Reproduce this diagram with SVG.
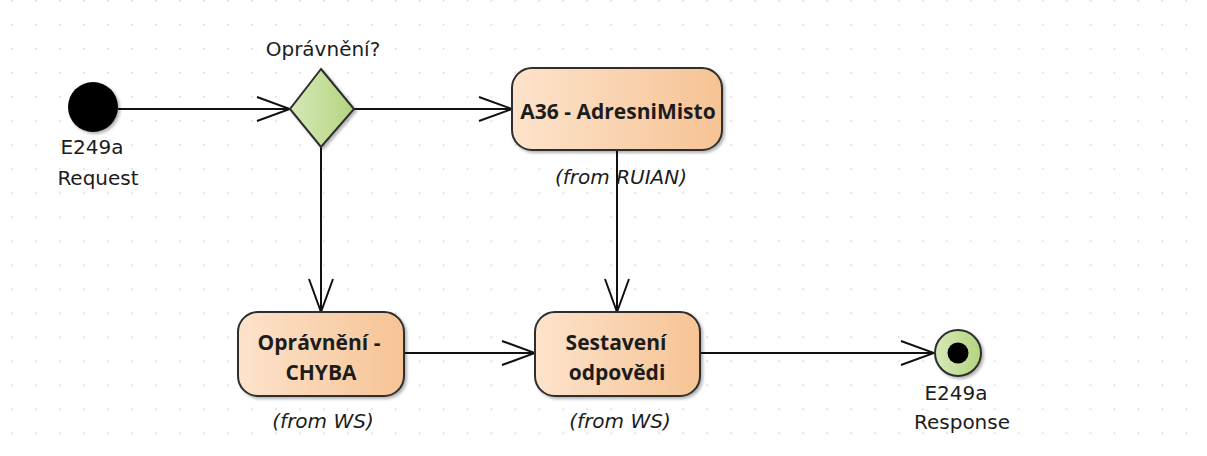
<svg xmlns="http://www.w3.org/2000/svg" width="1207" height="456" viewBox="0 0 1207 456">
<style>
.lbl{font-family:"DejaVu Sans",Verdana,sans-serif;font-size:20px;fill:#1c1c1c;text-anchor:middle}
.nt{font-family:"Open Sans","DejaVu Sans",sans-serif;font-size:21px;font-weight:bold;fill:#1c1c1c;text-anchor:middle}
.from{font-family:"DejaVu Sans",Verdana,sans-serif;font-size:20px;font-style:italic;fill:#1c1c1c;text-anchor:middle}
.act{fill:url(#gAct);stroke:#2e2e2e;stroke-width:2;filter:url(#sh)}
.edge{fill:none;stroke:#111;stroke-width:2;marker-end:url(#arr)}
</style>
<defs>
<pattern id="grid" patternUnits="userSpaceOnUse" x="0.3" y="-11.2" width="23.96" height="24.02">
<rect x="11.3" y="11.3" width="1.4" height="1.4" fill="#c4c4c4"/>
</pattern>
<linearGradient id="gAct" x1="0" y1="0" x2="1" y2="0">
<stop offset="0" stop-color="#fde3cc"/>
<stop offset="1" stop-color="#f6c394"/>
</linearGradient>
<linearGradient id="gGreen" x1="0" y1="0" x2="1" y2="0">
<stop offset="0" stop-color="#d6e9b8"/>
<stop offset="1" stop-color="#b4d47e"/>
</linearGradient>
<filter id="sh" x="-20%" y="-20%" width="140%" height="140%">
<feDropShadow dx="2" dy="2" stdDeviation="1.5" flood-color="#000" flood-opacity="0.3"/>
</filter>
<marker id="arr" markerUnits="userSpaceOnUse" viewBox="0 0 36 28" refX="34" refY="14" markerWidth="36" markerHeight="28" orient="auto">
<path d="M1,2 L34,14 L1,26" fill="none" stroke="#111" stroke-width="2"/>
</marker>
</defs>
<rect x="0" y="0" width="1207" height="456" fill="#fff"/>
<rect x="0" y="0" width="1207" height="456" fill="url(#grid)"/>

<g id="connectors">
<line class="edge" x1="118" y1="109" x2="290" y2="109"/>
<line class="edge" x1="354" y1="109" x2="512" y2="109"/>
<line class="edge" x1="321" y1="147" x2="321" y2="312"/>
<line class="edge" x1="617" y1="150" x2="617" y2="312"/>
<line class="edge" x1="404" y1="353" x2="535" y2="353"/>
<line class="edge" x1="700" y1="353" x2="934" y2="353"/>
</g>

<g id="start">
<circle cx="93" cy="107" r="25" fill="#000" filter="url(#sh)"/>
<text class="lbl" x="92" y="154">E249a</text>
<text class="lbl" x="98" y="185">Request</text>
</g>

<g id="decision">
<polygon points="321,69 354,109 321,147 290,109" fill="url(#gGreen)" stroke="#2e2e2e" stroke-width="2" filter="url(#sh)"/>
<text class="lbl" x="323" y="56">Oprávnění?</text>
</g>

<g id="a36">
<rect class="act" x="512" y="68" width="210" height="82" rx="20" ry="20"/>
<text class="nt" x="618" y="119">A36 - AdresniMisto</text>
<text class="from" x="621" y="184">(from RUIAN)</text>
</g>

<g id="chyba">
<rect class="act" x="238" y="312" width="166" height="84" rx="20" ry="20"/>
<text class="nt" x="319" y="350">Oprávnění -</text>
<text class="nt" x="321" y="380">CHYBA</text>
<text class="from" x="323" y="428">(from WS)</text>
</g>

<g id="sestaveni">
<rect class="act" x="535" y="312" width="165" height="84" rx="20" ry="20"/>
<text class="nt" x="616" y="350">Sestavení</text>
<text class="nt" x="617" y="380">odpovědi</text>
<text class="from" x="620" y="428">(from WS)</text>
</g>

<g id="end">
<circle cx="958" cy="353" r="23" fill="url(#gGreen)" stroke="#2e2e2e" stroke-width="2" filter="url(#sh)"/>
<circle cx="958" cy="353" r="10.5" fill="#000"/>
<text class="lbl" x="956" y="400">E249a</text>
<text class="lbl" x="962" y="429">Response</text>
</g>
</svg>
